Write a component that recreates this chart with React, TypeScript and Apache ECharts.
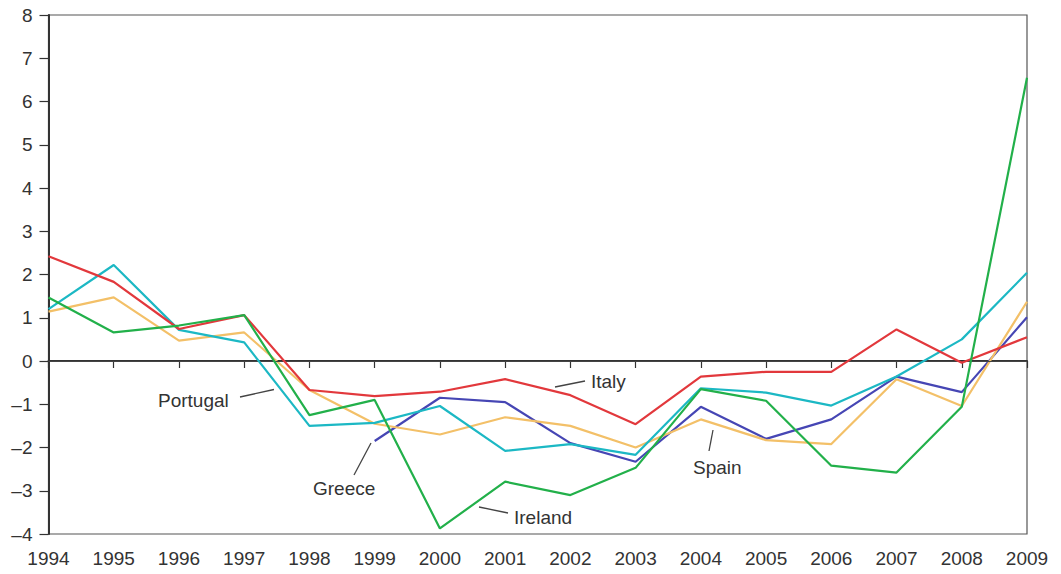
import React, { useEffect, useRef } from "react";
import * as echarts from "echarts";

const years = ["1994","1995","1996","1997","1998","1999","2000","2001","2002","2003","2004","2005","2006","2007","2008","2009"];
const italy = [2.42, 1.83, 0.74, 1.06, -0.67, -0.81, -0.71, -0.42, -0.79, -1.46, -0.36, -0.25, -0.25, 0.73, -0.04, 0.55];
const portugal = [1.2, 2.22, 0.72, 0.43, -1.5, -1.43, -1.04, -2.08, -1.92, -2.17, -0.63, -0.73, -1.03, -0.36, 0.5, 2.04];
const greece = [null, null, null, null, null, -1.85, -0.85, -0.95, -1.9, -2.33, -1.06, -1.8, -1.35, -0.36, -0.72, 1.01];
const spain = [1.14, 1.47, 0.47, 0.66, -0.67, -1.45, -1.7, -1.3, -1.5, -2.0, -1.35, -1.83, -1.92, -0.42, -1.04, 1.37];
const ireland = [1.47, 0.66, 0.82, 1.06, -1.25, -0.9, -3.87, -2.79, -3.1, -2.47, -0.65, -0.92, -2.42, -2.58, -1.06, 6.55];
const yTicks = { min: -4, max: 8, interval: 1 };

const FONT = "'Liberation Sans', Arial, sans-serif";
const TXT = "#333333";

export default function App() {
  const ref = useRef<HTMLDivElement>(null);
  useEffect(() => {
    const chart = echarts.init(ref.current!, null, { renderer: "svg" });
    const line = (name: string, data: any[], color: string, z: number, extra: any = {}) => ({
      name,
      type: "line",
      data,
      symbol: "none",
      z,
      lineStyle: { color, width: 2.2 },
      itemStyle: { color },
      connectNulls: false,
      ...extra,
    });
    const label = (text: string, x: number, y: number) => ({
      type: "text",
      x,
      y,
      style: { text, fill: TXT, font: `19px ${FONT}`, textVerticalAlign: "middle" },
      z: 100,
    });
    const leader = (x1: number, y1: number, x2: number, y2: number) => ({
      type: "line",
      shape: { x1, y1, x2, y2 },
      style: { stroke: "#444", lineWidth: 1.3 },
      z: 100,
    });
    chart.setOption({
      animation: false,
      backgroundColor: "#ffffff",
      grid: {
        left: 48.5,
        right: 34,
        top: 15,
        bottom: 40,
        show: true,
        borderColor: "#555",
        borderWidth: 1.2,
      },
      xAxis: {
        type: "category",
        data: years,
        boundaryGap: false,
        axisLine: { lineStyle: { color: "#333", width: 2 } },
        axisTick: { show: true, inside: false, length: 7, lineStyle: { color: "#333", width: 1.2 } },
        axisLabel: { color: TXT, fontSize: 19, fontFamily: FONT, margin: 15, showMinLabel: true, showMaxLabel: true, interval: 0 },
        splitLine: { show: false },
      },
      yAxis: {
        type: "value",
        min: yTicks.min,
        max: yTicks.max,
        interval: yTicks.interval,
        axisLine: { show: true, lineStyle: { color: "#333", width: 2 } },
        axisTick: { show: true, inside: false, length: 9, lineStyle: { color: "#333", width: 1.2 } },
        axisLabel: {
          color: TXT,
          fontSize: 19,
          fontFamily: FONT,
          margin: 16,
          formatter: (v: number) => String(v).replace("-", "\u2013"),
        },
        splitLine: { show: false },
      },
      series: [
        line("Greece", greece, "#4646b4", 3),
        line("Spain", spain, "#f3c068", 4),
        line("Portugal", portugal, "#1cb8c4", 5),
        line("Italy", italy, "#e2383c", 6, {
          markLine: {
            silent: true,
            symbol: "none",
            label: { show: false },
            lineStyle: { color: "#444", width: 1.2, type: "solid" },
            data: [{ yAxis: 0 }],
          },
        }),
        line("Ireland", ireland, "#22b04a", 7),
      ],
      graphic: [
        label("Italy", 591, 381),
        leader(555, 387, 585, 381),
        label("Portugal", 158, 400),
        leader(240, 397, 274, 389.5),
        label("Greece", 313, 488),
        leader(354, 475, 371, 443),
        label("Ireland", 514, 517),
        leader(479, 507, 508, 513),
        label("Spain", 693, 467),
        leader(709, 451, 713, 430),
      ],
    });
    return () => chart.dispose();
  }, []);
  return (
    <div
      ref={ref}
      style={{ position: "fixed", left: 0, top: 0, width: 1061, height: 574, background: "#fff" }}
    />
  );
}
